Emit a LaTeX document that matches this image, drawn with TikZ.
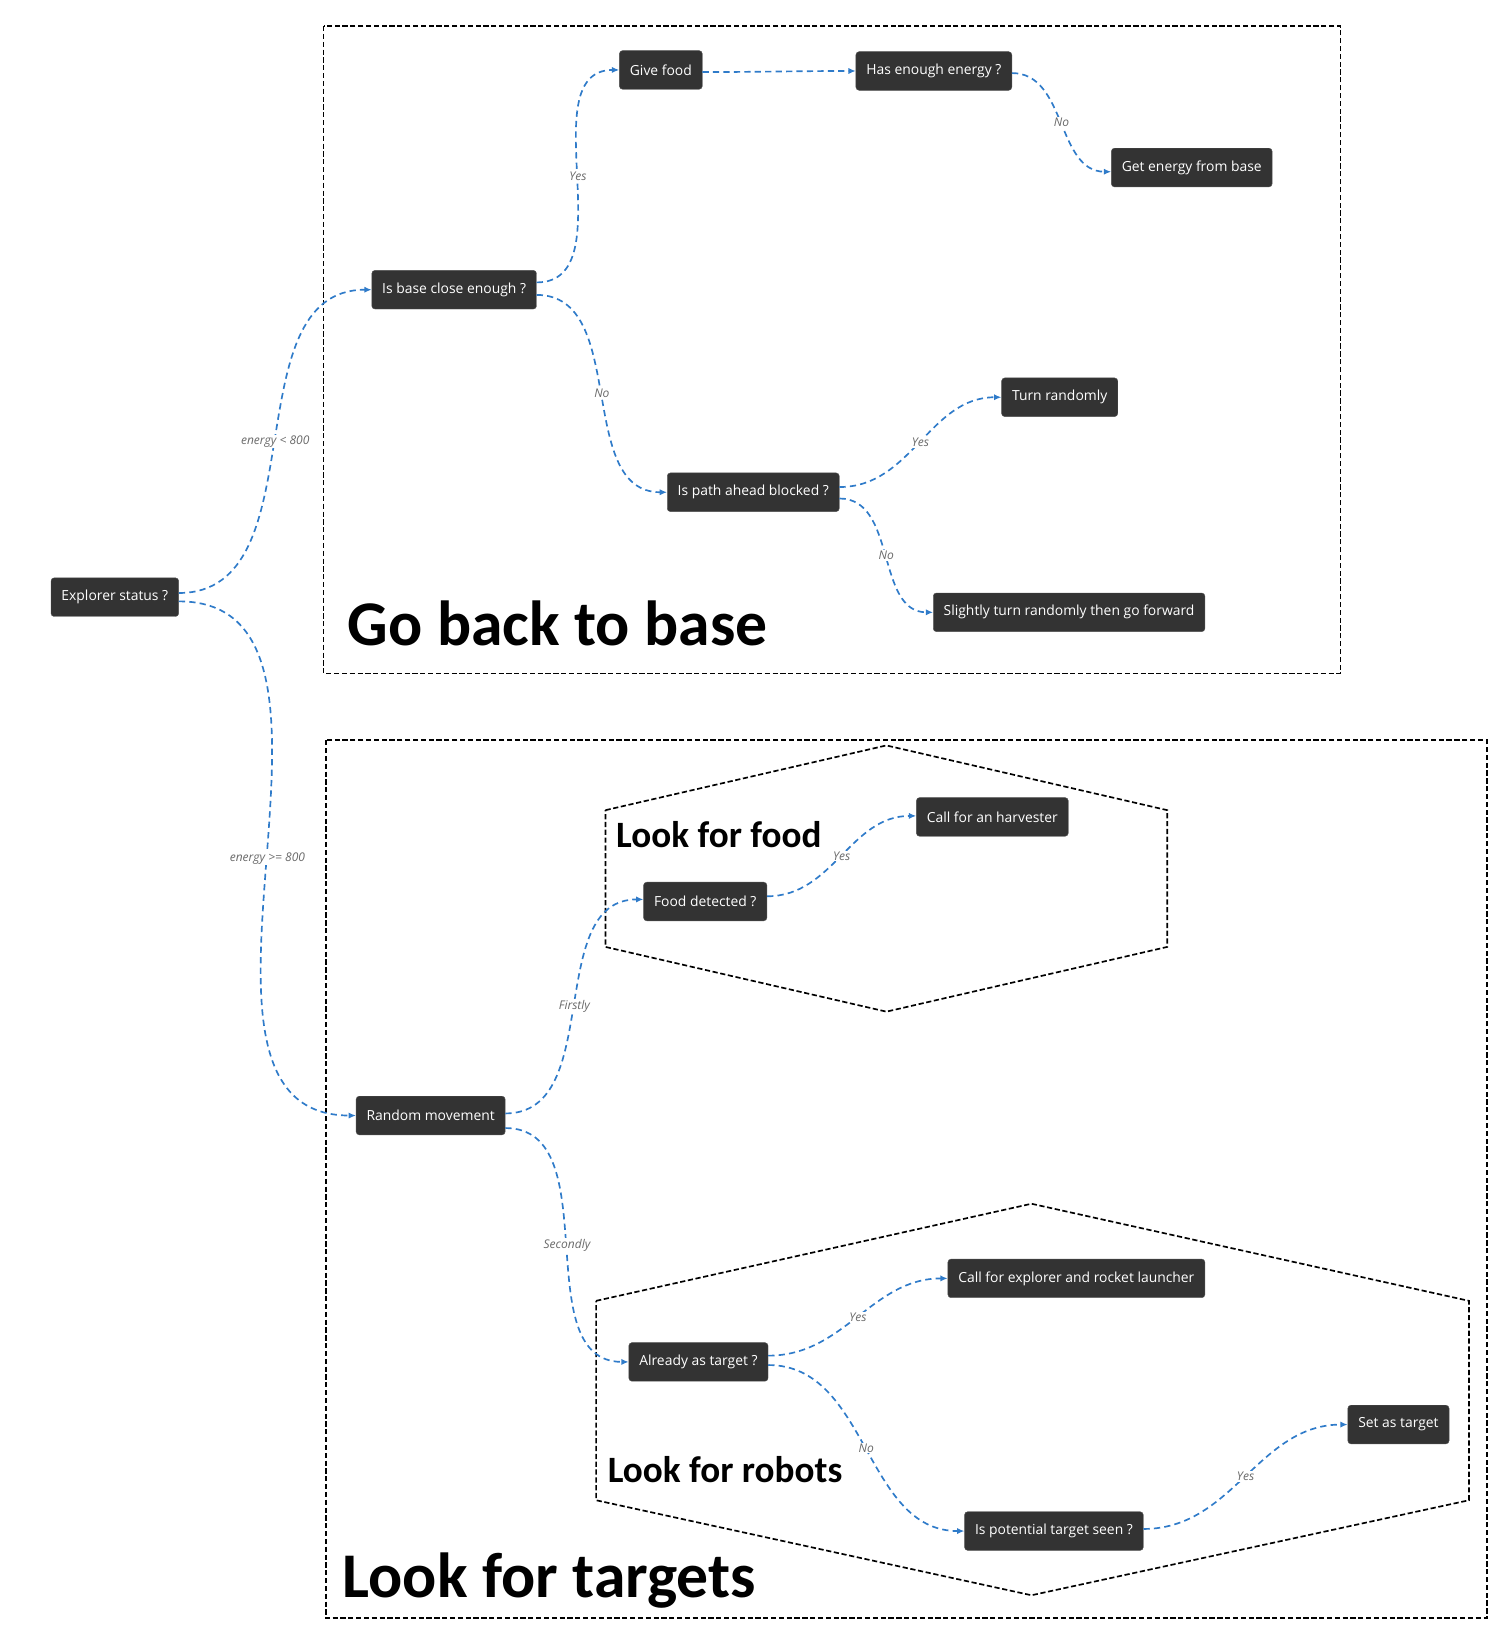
\documentclass[tikz,border=0pt]{standalone}
\usepackage{fontspec}
\setmainfont{Open Sans}
\newfontfamily\headfont{Carlito}
\usepackage{tikz}
\usetikzlibrary{arrows.meta}
\definecolor{boxgray}{HTML}{333333}
\definecolor{linkblue}{HTML}{2F7BC9}
\definecolor{labgray}{HTML}{6A6A6A}
\tikzset{
  box/.style={draw=boxgray!85!white, fill=boxgray, text=white, rounded corners=3pt,
    font=\fontsize{13.3}{15}\selectfont, minimum height=37pt, inner xsep=10pt},
  link/.style={draw=linkblue, dash pattern=on 6pt off 4pt, line width=1.6pt,
    -{Latex[length=7pt,width=6pt]}},
  lab/.style={font=\fontsize{11.5}{13}\selectfont\itshape, text=labgray, fill=white, inner sep=1pt},
  frame/.style={dash pattern=on 5pt off 2.5pt, line width=1.6pt},
  bigtitle/.style={font=\headfont\bfseries\fontsize{61}{65}\selectfont, anchor=base west, inner sep=0pt},
  subtitle/.style={font=\headfont\bfseries\fontsize{35.6}{38}\selectfont, anchor=base west, inner sep=0pt}
}
\begin{document}
\begin{tikzpicture}[x=1pt,y=-1pt]
\useasboundingbox (0,0) rectangle (1437,1568);
\draw[frame] (310,25) rectangle (1284,645);
\draw[frame] (312,709) rectangle (1424,1550);
\draw[frame] (580,776) -- (849,714) -- (1118,776) -- (1118,907) -- (849,969) -- (580,907) -- cycle;
\draw[frame] (571,1246) -- (988,1153) -- (1407,1246) -- (1407,1437) -- (988,1528) -- (571,1437) -- cycle;
\node[bigtitle] (tback) at (333,618) {Go back to base};
\node[bigtitle] (ttargets) at (328,1530) {Look for targets};
\node[subtitle] (tfood) at (590,812) {Look for food};
\node[subtitle] (trobots) at (582,1420) {Look for robots};

\node[box] (es) at (110,572) {Explorer status ?};
\node[box] (bc) at (435,277.5) {Is base close enough ?};
\node[box] (gf) at (633,67) {Give food};
\node[box] (he) at (894.5,68) {Has enough energy ?};
\node[box] (ge) at (1141.5,160.5) {Get energy from base};
\node[box] (tr) at (1015,380.5) {Turn randomly};
\node[box] (pb) at (721.5,471.5) {Is path ahead blocked ?};
\node[box] (st) at (1024,586.5) {Slightly turn randomly then go forward};
\node[box] (rm) at (412.5,1068.5) {Random movement};
\node[box] (ch) at (950.5,782.5) {Call for an harvester};
\node[box] (fd) at (675.5,863.5) {Food detected ?};
\node[box] (ce) at (1031,1224.5) {Call for explorer and rocket launcher};
\node[box] (at) at (669,1304.5) {Already as target ?};
\node[box] (sa) at (1339.5,1364.5) {Set as target};
\node[box] (ps) at (1009.5,1466.5) {Is potential target seen ?};

\draw[link] ([yshift=4]es.east) to[out=0,in=180] node[lab] {energy < 800} (bc.west);
\draw[link] ([yshift=-4]es.east) to[out=0,in=180] node[lab] {energy >= 800} (rm.west);
\draw[link] ([yshift=7]bc.east) to[out=0,in=180] node[lab] {Yes} (gf.west);
\draw[link] ([yshift=-5]bc.east) to[out=0,in=180] node[lab] {No} (pb.west);
\draw[link] ([yshift=-2]gf.east) to[out=0,in=180] (he.west);
\draw[link] ([yshift=-2]he.east) to[out=0,in=180] node[lab] {No} ([yshift=-4]ge.west);
\draw[link] ([yshift=5]pb.east) to[out=0,in=180] node[lab] {Yes} (tr.west);
\draw[link] ([yshift=-6]pb.east) to[out=0,in=180] node[lab] {No} (st.west);
\draw[link] ([yshift=2]rm.east) to[out=0,in=180] node[lab] {Firstly} ([yshift=2]fd.west);
\draw[link] ([yshift=-12]rm.east) to[out=0,in=180] node[lab] {Secondly} (at.west);
\draw[link] ([yshift=5]fd.east) to[out=0,in=180] node[lab] {Yes} ([yshift=1]ch.west);
\draw[link] ([yshift=6]at.east) to[out=0,in=180] node[lab] {Yes} (ce.west);
\draw[link] ([yshift=-3]at.east) to[out=0,in=180] node[lab] {No} (ps.west);
\draw[link] ([yshift=2]ps.east) to[out=0,in=180] node[lab] {Yes} (sa.west);
\end{tikzpicture}
\end{document}
